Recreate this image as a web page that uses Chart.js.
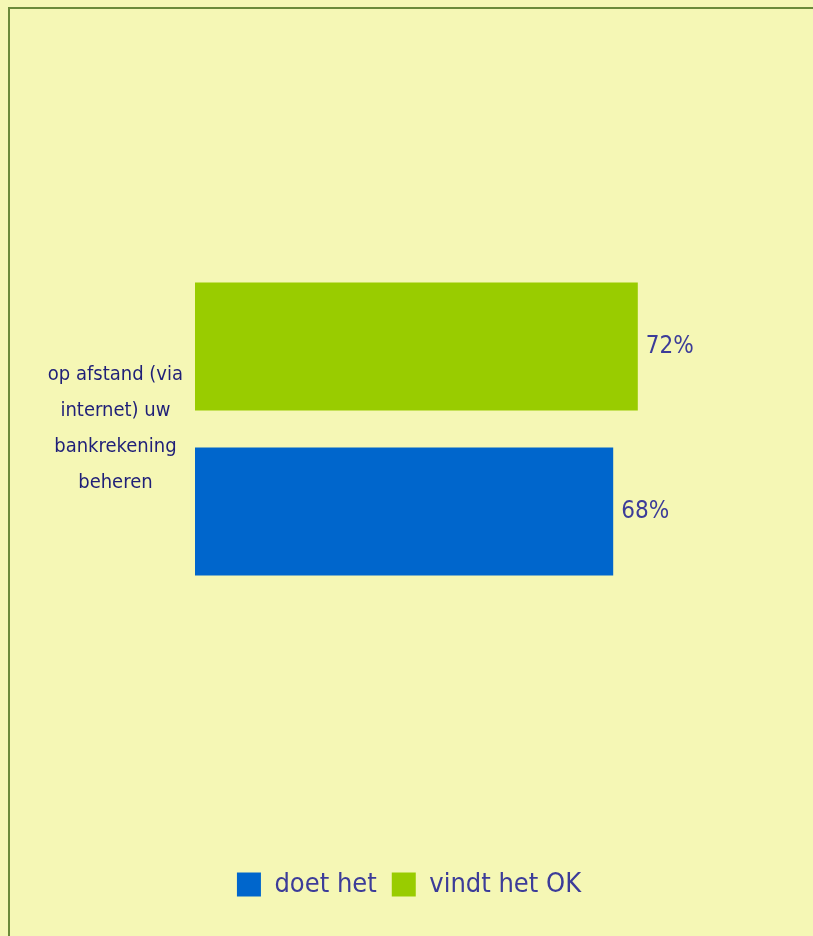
<!DOCTYPE html>
<html lang="nl">
<head>
  <meta charset="UTF-8" />
  <title>Bankrekening beheren</title>
  <script src="https://cdn.jsdelivr.net/npm/chart.js"></script>
  <style>
    html, body { margin: 0; padding: 0; background: #f5f7b5; overflow: hidden; }
    .frame {
      position: absolute; left: 8px; top: 7px; width: 900px; height: 1000px;
      border-left: 2px solid #6b8a3a; border-top: 2px solid #6b8a3a;
    }
    .wrap { position: absolute; left: 0; top: 0; width: 813px; height: 936px; }
  </style>
</head>
<body>
  <div class="frame"></div>
  <div class="wrap"><canvas id="bankChart" width="813" height="936"></canvas></div>

  <script>
    const categories = [["op afstand (via", "internet) uw", "bankrekening", "beheren"]];
    const seriesNames = ["vindt het OK", "doet het"];
    const vindtHetOk = [72];
    const doetHet = [68];

    const FONT = "'Liberation Sans Narrow', 'DejaVu Sans Condensed', sans-serif";

    // percentages next to the end of each bar
    const valueLabels = {
      id: "valueLabels",
      afterDatasetsDraw(chart) {
        const ctx = chart.ctx;
        ctx.save();
        ctx.font = "24px " + FONT;
        ctx.fillStyle = "#3c3c99";
        ctx.textAlign = "left";
        ctx.textBaseline = "middle";
        chart.data.datasets.forEach((ds, i) => {
          chart.getDatasetMeta(i).data.forEach((bar, j) => {
            ctx.fillText(ds.data[j] + "%", bar.x + 8, bar.y);
          });
        });
        ctx.restore();
      }
    };

    new Chart(document.getElementById("bankChart"), {
      type: "bar",
      data: {
        labels: categories,
        datasets: [
          { label: seriesNames[0], data: vindtHetOk, backgroundColor: "#99cc00" },
          { label: seriesNames[1], data: doetHet, backgroundColor: "#0066cc" }
        ]
      },
      options: {
        indexAxis: "y",
        responsive: false,
        animation: false,
        categoryPercentage: 0.3864,
        barPercentage: 0.776,
        layout: { padding: { left: 8, right: 3, top: 2, bottom: 28 } },
        scales: {
          x: { display: false, min: 0, max: 100 },
          y: {
            grid: { display: false, drawTicks: false },
            border: { display: false },
            afterFit(scale) {
              // fixed label column, and no extra room for the tall label
              scale.width = 187;
              scale.paddingTop = 0;
              scale.paddingBottom = 0;
            },
            ticks: {
              crossAlign: "center",
              padding: 12,
              color: "#1f1f78",
              font: { family: FONT, size: 20, lineHeight: 1.8 }
            }
          }
        },
        plugins: {
          tooltip: { enabled: false },
          legend: {
            position: "bottom",
            reverse: true,
            labels: {
              boxWidth: 24,
              boxHeight: 24,
              padding: 15,
              color: "#3c3c99",
              font: { family: FONT, size: 27 }
            }
          }
        }
      },
      plugins: [valueLabels]
    });
  </script>
</body>
</html>
